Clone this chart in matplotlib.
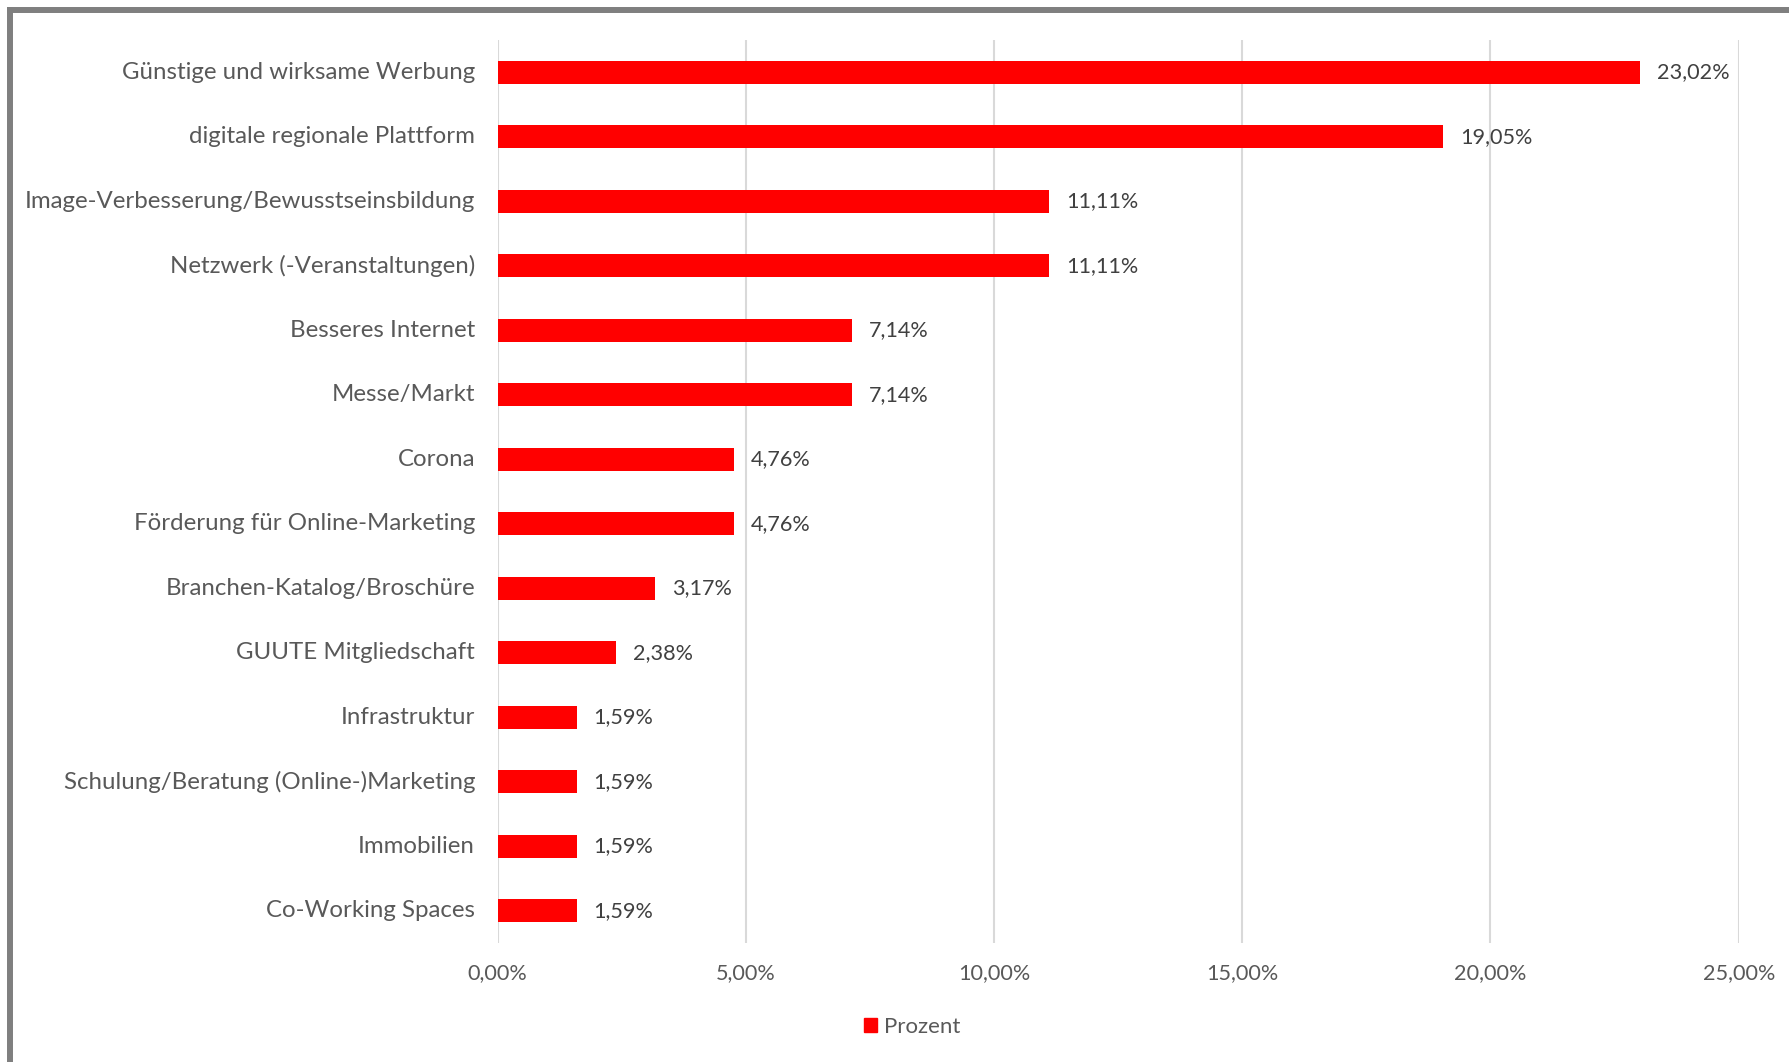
import numpy as np
import matplotlib.pyplot as plt
from matplotlib.lines import Line2D
from matplotlib.patches import Patch
from matplotlib.ticker import FuncFormatter

categories = [
    "Günstige und wirksame Werbung",
    "digitale regionale Plattform",
    "Image-Verbesserung/Bewusstseinsbildung",
    "Netzwerk (-Veranstaltungen)",
    "Besseres Internet",
    "Messe/Markt",
    "Corona",
    "Förderung für Online-Marketing",
    "Branchen-Katalog/Broschüre",
    "GUUTE Mitgliedschaft",
    "Infrastruktur",
    "Schulung/Beratung (Online-)Marketing",
    "Immobilien",
    "Co-Working Spaces",
]
prozent = [23.02, 19.05, 11.11, 11.11, 7.14, 7.14, 4.76, 4.76, 3.17, 2.38,
           1.59, 1.59, 1.59, 1.59]
x_ticks = [0, 5, 10, 15, 20, 25]

plt.rcParams['font.family'] = ['Lato', 'DejaVu Sans']

W, H = 1790, 1062
fig = plt.figure(figsize=(W / 100, H / 100), dpi=100)
ax = fig.add_axes([497.7 / W, 1 - 943 / H, (1738.7 - 497.7) / W, (943 - 40) / H])

y = np.arange(len(categories))
ax.barh(y, prozent, height=0.36, color='#ff0000', zorder=3)

ax.set_xlim(0, 25)
ax.set_ylim(len(categories) - 0.5, -0.5)
ax.set_xticks(x_ticks)
ax.xaxis.set_major_formatter(FuncFormatter(lambda v, p: f"{v:.2f}%".replace('.', ',')))
ax.set_yticks(y)
ax.set_yticklabels(categories, va='center')
ax.tick_params(axis='y', length=0, pad=16.3, labelsize=17.3, labelcolor='#595959')
ax.tick_params(axis='x', length=0, pad=14.5, labelsize=15.6, labelcolor='#595959')
ax.grid(axis='x', color='#d9d9d9', linewidth=1.5, zorder=0)
for s in ax.spines.values():
    s.set_visible(False)

for yi, v in zip(y, prozent):
    ax.annotate(f"{v:.2f}%".replace('.', ','), (v, yi), xytext=(12, 0),
                textcoords='offset points', va='center', ha='left',
                fontsize=15.6, color='#404040')

fig.legend(handles=[Patch(color='#ff0000', label='Prozent')], loc='center',
           bbox_to_anchor=(912 / W, 1 - 1027 / H), frameon=False, fontsize=16,
           handlelength=0.6, handleheight=0.6, handletextpad=0.3,
           labelcolor='#595959')

# grey frame (top and left edges visible)
fig.add_artist(Line2D([10 / W, 1.0], [1 - 9.5 / H, 1 - 9.5 / H], color='#7f7f7f',
                      linewidth=4.3, solid_capstyle='projecting'))
fig.add_artist(Line2D([10 / W, 10 / W], [0, 1 - 9.5 / H], color='#7f7f7f',
                      linewidth=4.3, solid_capstyle='projecting'))

fig.savefig('out.png', dpi=100)
